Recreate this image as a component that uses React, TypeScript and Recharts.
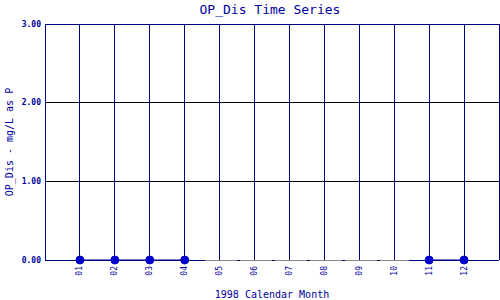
import React from "react";
import { LineChart, Line, XAxis, YAxis, CartesianGrid, ReferenceLine, Label } from "recharts";

const months = [1, 2, 3, 4, 5, 6, 7, 8, 9, 10, 11, 12];
const monthLabels = ["01", "02", "03", "04", "05", "06", "07", "08", "09", "10", "11", "12"];
const opDis: (number | null)[] = [0, 0, 0, 0, null, null, null, null, null, null, 0, 0];
const yTicks = [0, 1, 2, 3];
const gapStart = 4.57;
const gapEnd = 10.43;

const data = months.map((m, i) => ({ month: m, value: opDis[i] }));

const NAVY = "#000080";
const TEXT = "#0000a0";
const MONO = "'DejaVu Sans Mono', 'Liberation Mono', monospace";

const XTick = (props: any) => {
  const { x, y, payload } = props;
  const idx = months.indexOf(payload.value);
  return (
    <text
      x={x}
      y={y}
      transform={`rotate(-90 ${x} ${y})`}
      textAnchor="end"
      dominantBaseline="central"
      fontSize={8}
      fontFamily={MONO}
      fill={TEXT}
    >
      {idx >= 0 ? monthLabels[idx] : ""}
    </text>
  );
};

const YTick = (props: any) => {
  const { x, y, payload } = props;
  return (
    <text
      x={x}
      y={y}
      textAnchor="end"
      dominantBaseline="central"
      fontSize={8}
      fontWeight="bold"
      fontFamily={MONO}
      fill={TEXT}
    >
      {Number(payload.value).toFixed(2)}
    </text>
  );
};

export default function App() {
  return (
    <div style={{ position: "absolute", left: 0, top: 0, width: 500, height: 300, background: "#fff" }}>
      <LineChart width={500} height={300} data={data} margin={{ top: 24, right: 1, left: 0, bottom: 0 }}>
        <CartesianGrid horizontal={true} vertical={false} stroke="#000" shapeRendering="crispEdges" />
        <CartesianGrid horizontal={false} vertical={true} stroke={NAVY} shapeRendering="crispEdges" />
        <XAxis
          dataKey="month"
          type="number"
          domain={[0, 13]}
          ticks={months}
          height={40}
          tickLine={false}
          axisLine={false}
          tickSize={0}
          tickMargin={6}
          tick={<XTick />}
          interval={0}
        >
          <Label
            content={() => (
              <text x={272} y={294} textAnchor="middle" dominantBaseline="central" fontSize={10} fontFamily={MONO} fill={TEXT}>
                1998 Calendar Month
              </text>
            )}
          />
        </XAxis>
        <YAxis
          type="number"
          domain={[0, 3]}
          ticks={yTicks}
          width={45}
          tickLine={false}
          axisLine={false}
          tickSize={0}
          tickMargin={4}
          tick={<YTick />}
          interval={0}
        >
          <Label
            content={() => (
              <text x={9} y={142} transform="rotate(-90 9 142)" textAnchor="middle" dominantBaseline="central" fontSize={10} fontFamily={MONO} fill={TEXT}>
                OP_Dis - mg/L as P
              </text>
            )}
          />
          <Label
            content={() => (
              <text x={270} y={9} textAnchor="middle" dominantBaseline="central" fontSize={13} fontFamily={MONO} fill={TEXT}>
                OP_Dis Time Series
              </text>
            )}
          />
        </YAxis>
        <ReferenceLine x={0} stroke={NAVY} shapeRendering="crispEdges" />
        <ReferenceLine x={13} stroke={NAVY} shapeRendering="crispEdges" />
        <ReferenceLine y={3} stroke={NAVY} shapeRendering="crispEdges" />
        <ReferenceLine y={0} stroke={NAVY} shapeRendering="crispEdges" />
        <ReferenceLine
          segment={[{ x: gapStart, y: 0 }, { x: gapEnd, y: 0 }]}
          stroke="#888888"
          strokeDasharray="32 3"
          shapeRendering="crispEdges"
        />
        <Line
          dataKey="value"
          stroke={NAVY}
          strokeWidth={1}
          connectNulls={false}
          dot={{ r: 4, fill: "#0000cc", stroke: "#0000cc", strokeWidth: 1 }}
          isAnimationActive={false}
        />
      </LineChart>
    </div>
  );
}
